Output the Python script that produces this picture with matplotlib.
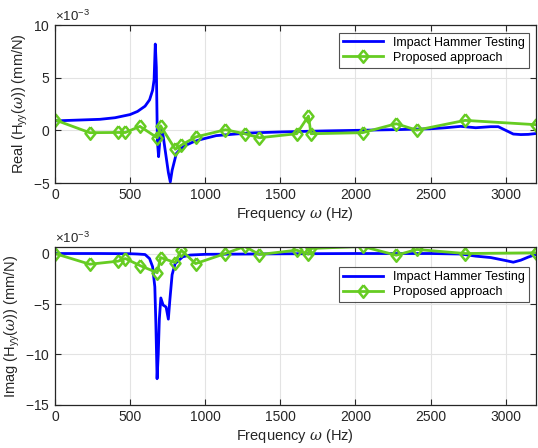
import matplotlib
matplotlib.use("Agg")
import matplotlib.pyplot as plt
from matplotlib.ticker import ScalarFormatter
import numpy as np

plt.rcParams["font.family"] = ["Liberation Sans", "DejaVu Sans"]
plt.rcParams["font.size"] = 10
plt.rcParams["mathtext.fontset"] = "custom"
plt.rcParams["mathtext.rm"] = "Liberation Sans"
plt.rcParams["mathtext.it"] = "DejaVu Serif:italic"

# values in units of 1e-3 mm/N
hammer_freq_re = [0, 100, 200, 300, 400, 500, 550, 600, 630, 650, 660, 668, 675,
                  682, 690, 698, 708, 720, 740, 755, 768, 780, 808, 840, 874,
                  920, 962, 1073, 1200, 1294, 1500, 1800, 2000, 2300, 2500,
                  2600, 2700, 2800, 2900, 2950, 3000, 3050, 3100, 3150, 3200]
hammer_re = [0.9, 0.95, 1.0, 1.05, 1.2, 1.5, 1.8, 2.3, 2.9, 3.8, 4.8, 8.2, 6.0,
             -1.0, -2.5, -1.0, 0.15, -0.5, -2.5, -4.0, -4.9, -3.8, -2.2, -1.7,
             -1.4, -1.1, -0.9, -0.5, -0.35, -0.25, -0.15, -0.05, 0.0, 0.08, 0.15,
             0.25, 0.38, 0.25, 0.35, 0.35, 0.0, -0.35, -0.4, -0.38, -0.3]

hammer_freq_im = [0, 300, 500, 550, 600, 630, 650, 665, 672, 680, 688, 695, 705,
                  720, 740, 755, 765, 780, 800, 850, 900, 1000, 1500, 2000,
                  2500, 2700, 2800, 2900, 3000, 3050, 3100, 3150, 3200]
hammer_im = [0.0, 0.0, -0.02, -0.05, -0.1, -0.5, -1.3, -3.3, -7.0, -12.4, -9.9,
             -6.5, -4.4, -5.1, -5.3, -6.5, -4.6, -2.1, -1.0, -0.33, -0.15,
             -0.08, -0.03, 0.0, 0.0, -0.05, -0.26, -0.4, -0.7, -0.86, -0.66,
             -0.35, -0.1]

proposed_freq = [0, 232, 420, 469, 566, 681, 703, 801, 841, 936, 1135, 1263,
                 1361, 1609, 1687, 1704, 2047, 2271, 2408, 2729, 3200]
proposed_re = [1.0, -0.22, -0.2, -0.2, 0.38, -0.7, 0.44, -1.8, -1.4, -0.63,
               0.06, -0.32, -0.7, -0.32, 1.36, -0.32, -0.22, 0.63, 0.02, 0.95,
               0.54]
proposed_im = [0.0, -1.06, -0.76, -0.5, -1.19, -1.9, -0.4, -0.9, 0.33, -1.0,
               0.0, 0.7, -0.1, 0.33, -0.07, 0.5, 0.7, -0.17, 0.4, 0.0, 0.07]

blue = "#0000FF"
green = "#66CC22"
dark = "#262626"
# matlab-style diamond, a little narrower than tall
diamond = [(0, 1), (0.8, 0), (0, -1), (-0.8, 0), (0, 1)]

fig = plt.figure(figsize=(5.38, 4.48), dpi=100)
ax1 = fig.add_axes([0.102, 0.5915, 0.894, 0.3525])
ax2 = fig.add_axes([0.102, 0.096, 0.894, 0.353])


def style(ax, ylim, yticks, ylabel):
    ax.set_xlim(0, 3200)
    ax.set_ylim(*ylim)
    ax.set_xticks([0, 500, 1000, 1500, 2000, 2500, 3000])
    ax.set_yticks(yticks)
    fmt = ScalarFormatter(useMathText=True)
    fmt.set_powerlimits((-3, -3))
    ax.yaxis.set_major_formatter(fmt)
    ax.grid(True, color="#e3e3e3", linewidth=0.8)
    ax.set_axisbelow(True)
    ax.tick_params(direction="in", top=True, right=True, colors=dark,
                   labelsize=10, length=4)
    for s in ax.spines.values():
        s.set_color(dark)
        s.set_linewidth(0.9)
    ax.set_xlabel(r"Frequency $\omega$ (Hz)", fontsize=10.5, color=dark, labelpad=2)
    ax.set_ylabel(ylabel, fontsize=10.5, color=dark, labelpad=2)
    ax.yaxis.get_offset_text().set_color(dark)
    ax.yaxis.get_offset_text().set_fontsize(9.5)


def legend(ax, y):
    leg = ax.legend(loc="upper right", bbox_to_anchor=(0.985, y), fontsize=9,
                    frameon=True, fancybox=False, edgecolor=dark,
                    borderpad=0.3, handlelength=3.2, labelspacing=0.25,
                    borderaxespad=0)
    leg.get_frame().set_linewidth(0.8)


ax1.plot(hammer_freq_re, np.array(hammer_re) * 1e-3, color=blue, lw=2,
         label="Impact Hammer Testing")
ax1.plot(proposed_freq, np.array(proposed_re) * 1e-3, color=green, lw=2,
         marker=diamond, markersize=9, markerfacecolor="none",
         markeredgewidth=1.8, label="Proposed approach")
style(ax1, (-5e-3, 10e-3), [-5e-3, 0, 5e-3, 10e-3],
      r"Real (H$_{\mathregular{yy}}$($\omega$)) (mm/N)")
legend(ax1, 0.95)

ax2.plot(hammer_freq_im, np.array(hammer_im) * 1e-3, color=blue, lw=2,
         label="Impact Hammer Testing")
ax2.plot(proposed_freq, np.array(proposed_im) * 1e-3, color=green, lw=2,
         marker=diamond, markersize=9, markerfacecolor="none",
         markeredgewidth=1.8, label="Proposed approach")
style(ax2, (-15e-3, 0.66e-3), [-15e-3, -10e-3, -5e-3, 0],
      r"Imag (H$_{\mathregular{yy}}$($\omega$)) (mm/N)")
legend(ax2, 0.87)

fig.savefig("out.png", dpi=100)
